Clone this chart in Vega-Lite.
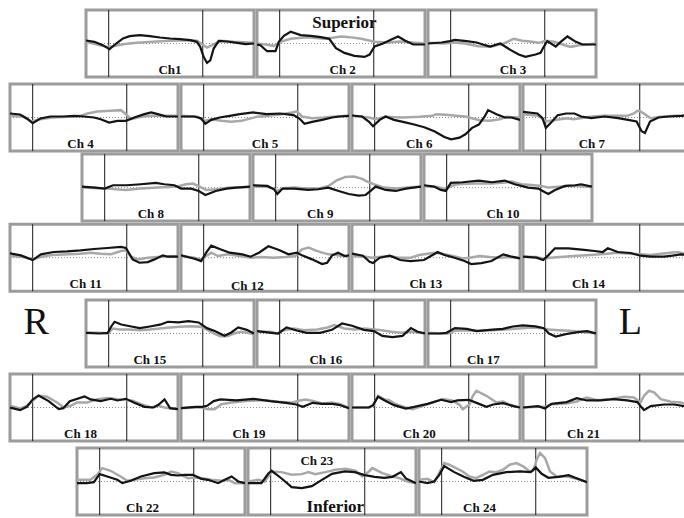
{
"$schema":"https://vega.github.io/schema/vega-lite/v6.json",
"padding":{"left":8,"top":8,"right":0,"bottom":0},
"background":"white",
"config":{"view":{"stroke":"#9c9c9c","strokeWidth":3},"axis":{"disable":true},"legend":{"disable":true}},
"datasets":{
"ev":[{"t":13.5,"v":-1,"v2":1},{"t":69.5,"v":-1,"v2":1}],
"bl":[{"t":0,"t2":100,"v":0}],
"lb":[
{"c":1,"t":50,"v":-1.0,"txt":"Ch1","k":"c"},
{"c":2,"t":51,"v":-1.0,"txt":"Ch 2","k":"c"},
{"c":2,"t":52,"v":0.47,"txt":"Superior","k":"p"},
{"c":3,"t":50.6,"v":-1.0,"txt":"Ch 3","k":"c"},
{"c":4,"t":42,"v":-1.0,"txt":"Ch 4","k":"c"},
{"c":5,"t":50,"v":-1.0,"txt":"Ch 5","k":"c"},
{"c":6,"t":40,"v":-1.0,"txt":"Ch 6","k":"c"},
{"c":7,"t":41,"v":-1.0,"txt":"Ch 7","k":"c"},
{"c":8,"t":41,"v":-1.0,"txt":"Ch 8","k":"c"},
{"c":9,"t":40,"v":-1.0,"txt":"Ch 9","k":"c"},
{"c":10,"t":47,"v":-1.0,"txt":"Ch 10","k":"c"},
{"c":11,"t":45,"v":-1.0,"txt":"Ch 11","k":"c"},
{"c":12,"t":39.5,"v":-1.04,"txt":"Ch 12","k":"c"},
{"c":13,"t":44,"v":-1.0,"txt":"Ch 13","k":"c"},
{"c":14,"t":39,"v":-1.0,"txt":"Ch 14","k":"c"},
{"c":15,"t":38,"v":-1.0,"txt":"Ch 15","k":"c"},
{"c":16,"t":41,"v":-1.0,"txt":"Ch 16","k":"c"},
{"c":17,"t":33,"v":-1.0,"txt":"Ch 17","k":"c"},
{"c":18,"t":42,"v":-1.0,"txt":"Ch 18","k":"c"},
{"c":19,"t":40.5,"v":-1.0,"txt":"Ch 19","k":"c"},
{"c":20,"t":40,"v":-1.0,"txt":"Ch 20","k":"c"},
{"c":21,"t":36,"v":-1.0,"txt":"Ch 21","k":"c"},
{"c":22,"t":39,"v":-1.0,"txt":"Ch 22","k":"c"},
{"c":23,"t":41,"v":0.5,"txt":"Ch 23","k":"c"},
{"c":23,"t":52,"v":-1.02,"txt":"Inferior","k":"p"},
{"c":24,"t":36,"v":-1.0,"txt":"Ch 24","k":"c"},
{"c":25,"t":36,"v":0.32,"txt":"R","k":"s"},
{"c":26,"t":43,"v":0.32,"txt":"L","k":"s"}
],
"tr":[
{"c":1,"s":"b","t":0,"v":0.09},{"c":1,"s":"b","t":5,"v":0.05},{"c":1,"s":"b","t":10,"v":-0.05},{"c":1,"s":"b","t":14,"v":-0.17},{"c":1,"s":"b","t":18,"v":0},{"c":1,"s":"b","t":22,"v":0.15},{"c":1,"s":"b","t":26,"v":0.22},{"c":1,"s":"b","t":32,"v":0.25},{"c":1,"s":"b","t":38,"v":0.22},{"c":1,"s":"b","t":44,"v":0.18},{"c":1,"s":"b","t":50,"v":0.15},{"c":1,"s":"b","t":56,"v":0.13},{"c":1,"s":"b","t":62,"v":0.1},{"c":1,"s":"b","t":66,"v":0.05},{"c":1,"s":"b","t":68,"v":-0.1},{"c":1,"s":"b","t":70,"v":-0.4},{"c":1,"s":"b","t":72,"v":-0.58},{"c":1,"s":"b","t":74,"v":-0.5},{"c":1,"s":"b","t":76,"v":-0.15},{"c":1,"s":"b","t":79,"v":0.08},{"c":1,"s":"b","t":84,"v":0.06},{"c":1,"s":"b","t":90,"v":0.02},{"c":1,"s":"b","t":95,"v":-0.02},{"c":1,"s":"b","t":100,"v":0},
{"c":1,"s":"g","t":0,"v":0.05},{"c":1,"s":"g","t":6,"v":-0.02},{"c":1,"s":"g","t":12,"v":-0.1},{"c":1,"s":"g","t":16,"v":-0.08},{"c":1,"s":"g","t":22,"v":-0.02},{"c":1,"s":"g","t":30,"v":0.02},{"c":1,"s":"g","t":40,"v":0.05},{"c":1,"s":"g","t":50,"v":0.08},{"c":1,"s":"g","t":60,"v":0.1},{"c":1,"s":"g","t":66,"v":0.08},{"c":1,"s":"g","t":70,"v":-0.05},{"c":1,"s":"g","t":72,"v":-0.12},{"c":1,"s":"g","t":75,"v":-0.05},{"c":1,"s":"g","t":80,"v":0.08},{"c":1,"s":"g","t":88,"v":0.05},{"c":1,"s":"g","t":100,"v":0.02},
{"c":2,"s":"b","t":0,"v":-0.03},{"c":2,"s":"b","t":2,"v":-0.05},{"c":2,"s":"b","t":6,"v":-0.23},{"c":2,"s":"b","t":11,"v":-0.23},{"c":2,"s":"b","t":13,"v":0.05},{"c":2,"s":"b","t":16,"v":0.23},{"c":2,"s":"b","t":20,"v":0.35},{"c":2,"s":"b","t":26,"v":0.25},{"c":2,"s":"b","t":32,"v":0.23},{"c":2,"s":"b","t":38,"v":0.19},{"c":2,"s":"b","t":43,"v":0.14},{"c":2,"s":"b","t":47,"v":-0.14},{"c":2,"s":"b","t":52,"v":-0.28},{"c":2,"s":"b","t":58,"v":-0.37},{"c":2,"s":"b","t":64,"v":-0.4},{"c":2,"s":"b","t":67,"v":-0.33},{"c":2,"s":"b","t":70,"v":-0.09},{"c":2,"s":"b","t":75,"v":0},{"c":2,"s":"b","t":80,"v":0.12},{"c":2,"s":"b","t":84,"v":0.21},{"c":2,"s":"b","t":88,"v":0.09},{"c":2,"s":"b","t":93,"v":-0.03},{"c":2,"s":"b","t":100,"v":-0.03},
{"c":2,"s":"g","t":0,"v":0},{"c":2,"s":"g","t":5,"v":-0.03},{"c":2,"s":"g","t":10,"v":-0.07},{"c":2,"s":"g","t":14,"v":0.05},{"c":2,"s":"g","t":20,"v":0.14},{"c":2,"s":"g","t":30,"v":0.19},{"c":2,"s":"g","t":40,"v":0.14},{"c":2,"s":"g","t":45,"v":0.17},{"c":2,"s":"g","t":50,"v":0.21},{"c":2,"s":"g","t":55,"v":0.19},{"c":2,"s":"g","t":62,"v":0.14},{"c":2,"s":"g","t":70,"v":0.05},{"c":2,"s":"g","t":78,"v":0.03},{"c":2,"s":"g","t":85,"v":0.06},{"c":2,"s":"g","t":92,"v":0.03},{"c":2,"s":"g","t":100,"v":0},
{"c":3,"s":"b","t":0,"v":0},{"c":3,"s":"b","t":8,"v":0.03},{"c":3,"s":"b","t":13,"v":0.07},{"c":3,"s":"b","t":16,"v":0.11},{"c":3,"s":"b","t":23,"v":0.07},{"c":3,"s":"b","t":29,"v":0.03},{"c":3,"s":"b","t":34,"v":-0.05},{"c":3,"s":"b","t":37,"v":-0.09},{"c":3,"s":"b","t":43,"v":0},{"c":3,"s":"b","t":49,"v":-0.19},{"c":3,"s":"b","t":54,"v":-0.33},{"c":3,"s":"b","t":58,"v":-0.4},{"c":3,"s":"b","t":64,"v":-0.33},{"c":3,"s":"b","t":67,"v":-0.28},{"c":3,"s":"b","t":69,"v":-0.09},{"c":3,"s":"b","t":71,"v":0.07},{"c":3,"s":"b","t":76,"v":-0.09},{"c":3,"s":"b","t":79,"v":0.05},{"c":3,"s":"b","t":83,"v":0.21},{"c":3,"s":"b","t":88,"v":0.05},{"c":3,"s":"b","t":92,"v":-0.03},{"c":3,"s":"b","t":100,"v":-0.03},
{"c":3,"s":"g","t":0,"v":0.02},{"c":3,"s":"g","t":10,"v":0},{"c":3,"s":"g","t":15,"v":0.03},{"c":3,"s":"g","t":22,"v":0},{"c":3,"s":"g","t":30,"v":-0.08},{"c":3,"s":"g","t":37,"v":-0.1},{"c":3,"s":"g","t":45,"v":0},{"c":3,"s":"g","t":51,"v":0.14},{"c":3,"s":"g","t":56,"v":0.08},{"c":3,"s":"g","t":62,"v":0.05},{"c":3,"s":"g","t":66,"v":0.02},{"c":3,"s":"g","t":70,"v":0.08},{"c":3,"s":"g","t":75,"v":0.05},{"c":3,"s":"g","t":80,"v":-0.03},{"c":3,"s":"g","t":85,"v":-0.1},{"c":3,"s":"g","t":90,"v":-0.05},{"c":3,"s":"g","t":100,"v":0},
{"c":4,"s":"b","t":0,"v":0.12},{"c":4,"s":"b","t":6,"v":0.09},{"c":4,"s":"b","t":10,"v":-0.03},{"c":4,"s":"b","t":13.5,"v":-0.17},{"c":4,"s":"b","t":18,"v":-0.03},{"c":4,"s":"b","t":24,"v":0.03},{"c":4,"s":"b","t":32,"v":0.03},{"c":4,"s":"b","t":38,"v":0.05},{"c":4,"s":"b","t":44,"v":0.03},{"c":4,"s":"b","t":50,"v":0},{"c":4,"s":"b","t":54,"v":-0.05},{"c":4,"s":"b","t":59,"v":-0.15},{"c":4,"s":"b","t":64,"v":-0.1},{"c":4,"s":"b","t":69,"v":-0.1},{"c":4,"s":"b","t":74,"v":0},{"c":4,"s":"b","t":80,"v":0.1},{"c":4,"s":"b","t":84,"v":0.15},{"c":4,"s":"b","t":88,"v":0.1},{"c":4,"s":"b","t":93,"v":0.03},{"c":4,"s":"b","t":100,"v":0.03},
{"c":4,"s":"g","t":0,"v":0.05},{"c":4,"s":"g","t":8,"v":0.02},{"c":4,"s":"g","t":13,"v":-0.12},{"c":4,"s":"g","t":18,"v":-0.05},{"c":4,"s":"g","t":25,"v":0},{"c":4,"s":"g","t":35,"v":0.02},{"c":4,"s":"g","t":42,"v":0.05},{"c":4,"s":"g","t":46,"v":0.12},{"c":4,"s":"g","t":52,"v":0.18},{"c":4,"s":"g","t":60,"v":0.2},{"c":4,"s":"g","t":66,"v":0.22},{"c":4,"s":"g","t":69,"v":0.1},{"c":4,"s":"g","t":72,"v":-0.05},{"c":4,"s":"g","t":76,"v":0},{"c":4,"s":"g","t":82,"v":0.05},{"c":4,"s":"g","t":90,"v":0.05},{"c":4,"s":"g","t":100,"v":0.05},
{"c":5,"s":"b","t":0,"v":0.03},{"c":5,"s":"b","t":8,"v":0.03},{"c":5,"s":"b","t":12,"v":-0.03},{"c":5,"s":"b","t":14.5,"v":-0.19},{"c":5,"s":"b","t":18,"v":-0.07},{"c":5,"s":"b","t":23,"v":0},{"c":5,"s":"b","t":29,"v":0.05},{"c":5,"s":"b","t":35,"v":0.1},{"c":5,"s":"b","t":43,"v":0.15},{"c":5,"s":"b","t":51,"v":0.1},{"c":5,"s":"b","t":59,"v":0.12},{"c":5,"s":"b","t":67,"v":0.07},{"c":5,"s":"b","t":70.5,"v":-0.03},{"c":5,"s":"b","t":73.5,"v":-0.19},{"c":5,"s":"b","t":78,"v":-0.13},{"c":5,"s":"b","t":84,"v":-0.07},{"c":5,"s":"b","t":90,"v":0},{"c":5,"s":"b","t":94,"v":0.03},{"c":5,"s":"b","t":100,"v":0.05},
{"c":5,"s":"g","t":0,"v":0.05},{"c":5,"s":"g","t":10,"v":0.02},{"c":5,"s":"g","t":14,"v":-0.1},{"c":5,"s":"g","t":18,"v":-0.05},{"c":5,"s":"g","t":24,"v":-0.1},{"c":5,"s":"g","t":30,"v":-0.13},{"c":5,"s":"g","t":36,"v":-0.1},{"c":5,"s":"g","t":45,"v":0.02},{"c":5,"s":"g","t":52,"v":0.05},{"c":5,"s":"g","t":60,"v":0.1},{"c":5,"s":"g","t":66,"v":0.15},{"c":5,"s":"g","t":69,"v":0.18},{"c":5,"s":"g","t":72,"v":0.03},{"c":5,"s":"g","t":78,"v":-0.02},{"c":5,"s":"g","t":85,"v":0},{"c":5,"s":"g","t":92,"v":0.03},{"c":5,"s":"g","t":100,"v":0.05},
{"c":6,"s":"b","t":0,"v":0.06},{"c":6,"s":"b","t":6,"v":0.03},{"c":6,"s":"b","t":10,"v":-0.12},{"c":6,"s":"b","t":12.5,"v":-0.26},{"c":6,"s":"b","t":16.5,"v":-0.07},{"c":6,"s":"b","t":20,"v":0.03},{"c":6,"s":"b","t":25,"v":-0.07},{"c":6,"s":"b","t":31,"v":-0.14},{"c":6,"s":"b","t":37,"v":-0.21},{"c":6,"s":"b","t":43,"v":-0.29},{"c":6,"s":"b","t":49,"v":-0.41},{"c":6,"s":"b","t":55,"v":-0.58},{"c":6,"s":"b","t":59,"v":-0.65},{"c":6,"s":"b","t":64,"v":-0.6},{"c":6,"s":"b","t":67.5,"v":-0.5},{"c":6,"s":"b","t":71.5,"v":-0.31},{"c":6,"s":"b","t":75.5,"v":-0.21},{"c":6,"s":"b","t":79,"v":0.03},{"c":6,"s":"b","t":81,"v":0.22},{"c":6,"s":"b","t":86,"v":0.1},{"c":6,"s":"b","t":91,"v":0},{"c":6,"s":"b","t":95,"v":0},{"c":6,"s":"b","t":100,"v":-0.07},
{"c":6,"s":"g","t":0,"v":0.05},{"c":6,"s":"g","t":10,"v":0},{"c":6,"s":"g","t":14,"v":-0.05},{"c":6,"s":"g","t":20,"v":0.02},{"c":6,"s":"g","t":30,"v":0},{"c":6,"s":"g","t":40,"v":0.02},{"c":6,"s":"g","t":48,"v":0.05},{"c":6,"s":"g","t":50,"v":0.1},{"c":6,"s":"g","t":56,"v":0.08},{"c":6,"s":"g","t":62,"v":0.05},{"c":6,"s":"g","t":68,"v":0.02},{"c":6,"s":"g","t":72,"v":-0.03},{"c":6,"s":"g","t":76,"v":-0.08},{"c":6,"s":"g","t":82,"v":-0.1},{"c":6,"s":"g","t":88,"v":-0.05},{"c":6,"s":"g","t":92,"v":0.02},{"c":6,"s":"g","t":100,"v":0},
{"c":7,"s":"b","t":0,"v":0.17},{"c":7,"s":"b","t":8.6,"v":0.12},{"c":7,"s":"b","t":11.6,"v":-0.02},{"c":7,"s":"b","t":13.6,"v":-0.31},{"c":7,"s":"b","t":16.6,"v":-0.16},{"c":7,"s":"b","t":20.6,"v":0.07},{"c":7,"s":"b","t":25.6,"v":0.12},{"c":7,"s":"b","t":30.6,"v":0.12},{"c":7,"s":"b","t":34.6,"v":0.03},{"c":7,"s":"b","t":40.6,"v":-0.02},{"c":7,"s":"b","t":48.6,"v":0.03},{"c":7,"s":"b","t":56.6,"v":-0.02},{"c":7,"s":"b","t":62.6,"v":-0.07},{"c":7,"s":"b","t":67.6,"v":-0.12},{"c":7,"s":"b","t":70.6,"v":-0.41},{"c":7,"s":"b","t":72.6,"v":-0.46},{"c":7,"s":"b","t":75.6,"v":-0.12},{"c":7,"s":"b","t":80.6,"v":0},{"c":7,"s":"b","t":86.6,"v":0.03},{"c":7,"s":"b","t":94.6,"v":0.05},{"c":7,"s":"b","t":100,"v":0.07},
{"c":7,"s":"g","t":0,"v":0.1},{"c":7,"s":"g","t":9,"v":0.05},{"c":7,"s":"g","t":12,"v":-0.05},{"c":7,"s":"g","t":14,"v":-0.12},{"c":7,"s":"g","t":18,"v":-0.08},{"c":7,"s":"g","t":22,"v":-0.05},{"c":7,"s":"g","t":26,"v":-0.02},{"c":7,"s":"g","t":30,"v":-0.05},{"c":7,"s":"g","t":34,"v":-0.02},{"c":7,"s":"g","t":40,"v":0.02},{"c":7,"s":"g","t":48,"v":0.05},{"c":7,"s":"g","t":56,"v":0.05},{"c":7,"s":"g","t":62,"v":0.05},{"c":7,"s":"g","t":66,"v":0.12},{"c":7,"s":"g","t":68,"v":0.2},{"c":7,"s":"g","t":70,"v":0.18},{"c":7,"s":"g","t":73,"v":0.08},{"c":7,"s":"g","t":76,"v":-0.02},{"c":7,"s":"g","t":82,"v":0.02},{"c":7,"s":"g","t":90,"v":0.05},{"c":7,"s":"g","t":100,"v":0.07},
{"c":8,"s":"b","t":0,"v":0.03},{"c":8,"s":"b","t":8,"v":0},{"c":8,"s":"b","t":13.5,"v":-0.03},{"c":8,"s":"b","t":18.5,"v":0.07},{"c":8,"s":"b","t":26.7,"v":0.07},{"c":8,"s":"b","t":35,"v":0.1},{"c":8,"s":"b","t":44,"v":0.14},{"c":8,"s":"b","t":49,"v":0.1},{"c":8,"s":"b","t":55,"v":0.07},{"c":8,"s":"b","t":59,"v":-0.03},{"c":8,"s":"b","t":65,"v":-0.03},{"c":8,"s":"b","t":69.5,"v":-0.1},{"c":8,"s":"b","t":73.5,"v":-0.22},{"c":8,"s":"b","t":79.6,"v":-0.1},{"c":8,"s":"b","t":86,"v":-0.03},{"c":8,"s":"b","t":92,"v":0},{"c":8,"s":"b","t":100,"v":0.03},
{"c":8,"s":"g","t":0,"v":0},{"c":8,"s":"g","t":10,"v":-0.02},{"c":8,"s":"g","t":16,"v":-0.03},{"c":8,"s":"g","t":20,"v":-0.05},{"c":8,"s":"g","t":26,"v":-0.07},{"c":8,"s":"g","t":35,"v":-0.03},{"c":8,"s":"g","t":45,"v":0},{"c":8,"s":"g","t":52,"v":0.02},{"c":8,"s":"g","t":58,"v":0.05},{"c":8,"s":"g","t":62,"v":0.1},{"c":8,"s":"g","t":66,"v":0.12},{"c":8,"s":"g","t":70,"v":0.03},{"c":8,"s":"g","t":74,"v":-0.07},{"c":8,"s":"g","t":80,"v":-0.05},{"c":8,"s":"g","t":88,"v":0},{"c":8,"s":"g","t":100,"v":0.02},
{"c":9,"s":"b","t":0,"v":0.07},{"c":9,"s":"b","t":8.5,"v":0.05},{"c":9,"s":"b","t":12.5,"v":-0.05},{"c":9,"s":"b","t":14.5,"v":-0.19},{"c":9,"s":"b","t":17.6,"v":-0.03},{"c":9,"s":"b","t":24.6,"v":-0.03},{"c":9,"s":"b","t":32.7,"v":-0.07},{"c":9,"s":"b","t":38.8,"v":-0.05},{"c":9,"s":"b","t":44.8,"v":0},{"c":9,"s":"b","t":51,"v":-0.1},{"c":9,"s":"b","t":57,"v":-0.19},{"c":9,"s":"b","t":63,"v":-0.24},{"c":9,"s":"b","t":67,"v":-0.22},{"c":9,"s":"b","t":70,"v":-0.1},{"c":9,"s":"b","t":73,"v":0.03},{"c":9,"s":"b","t":79,"v":-0.07},{"c":9,"s":"b","t":85,"v":-0.1},{"c":9,"s":"b","t":91,"v":-0.03},{"c":9,"s":"b","t":100,"v":0.03},
{"c":9,"s":"g","t":0,"v":0.03},{"c":9,"s":"g","t":8,"v":0.03},{"c":9,"s":"g","t":12,"v":-0.03},{"c":9,"s":"g","t":14.5,"v":-0.1},{"c":9,"s":"g","t":18,"v":-0.02},{"c":9,"s":"g","t":25,"v":0},{"c":9,"s":"g","t":32,"v":-0.03},{"c":9,"s":"g","t":40,"v":-0.02},{"c":9,"s":"g","t":45,"v":0.05},{"c":9,"s":"g","t":50,"v":0.22},{"c":9,"s":"g","t":55,"v":0.32},{"c":9,"s":"g","t":60,"v":0.33},{"c":9,"s":"g","t":65,"v":0.26},{"c":9,"s":"g","t":68,"v":0.18},{"c":9,"s":"g","t":72,"v":0.1},{"c":9,"s":"g","t":78,"v":0},{"c":9,"s":"g","t":85,"v":-0.03},{"c":9,"s":"g","t":92,"v":0},{"c":9,"s":"g","t":100,"v":0.03},
{"c":10,"s":"b","t":0,"v":0.07},{"c":10,"s":"b","t":6,"v":0.03},{"c":10,"s":"b","t":10,"v":-0.07},{"c":10,"s":"b","t":13,"v":-0.1},{"c":10,"s":"b","t":16,"v":0.14},{"c":10,"s":"b","t":23,"v":0.16},{"c":10,"s":"b","t":32.6,"v":0.21},{"c":10,"s":"b","t":40.5,"v":0.16},{"c":10,"s":"b","t":48,"v":0.21},{"c":10,"s":"b","t":54,"v":0.1},{"c":10,"s":"b","t":62,"v":0},{"c":10,"s":"b","t":68,"v":-0.03},{"c":10,"s":"b","t":72,"v":-0.14},{"c":10,"s":"b","t":74,"v":-0.19},{"c":10,"s":"b","t":78,"v":-0.07},{"c":10,"s":"b","t":84,"v":0.05},{"c":10,"s":"b","t":90,"v":0.07},{"c":10,"s":"b","t":93.5,"v":0.1},{"c":10,"s":"b","t":100,"v":0.03},
{"c":10,"s":"g","t":0,"v":0.05},{"c":10,"s":"g","t":8,"v":0.02},{"c":10,"s":"g","t":13,"v":-0.05},{"c":10,"s":"g","t":16,"v":0.05},{"c":10,"s":"g","t":20,"v":0.1},{"c":10,"s":"g","t":30,"v":0.12},{"c":10,"s":"g","t":40,"v":0.12},{"c":10,"s":"g","t":48,"v":0.15},{"c":10,"s":"g","t":52,"v":0.18},{"c":10,"s":"g","t":58,"v":0.1},{"c":10,"s":"g","t":64,"v":0.08},{"c":10,"s":"g","t":70,"v":0.05},{"c":10,"s":"g","t":74,"v":0},{"c":10,"s":"g","t":78,"v":0.02},{"c":10,"s":"g","t":86,"v":0.05},{"c":10,"s":"g","t":92,"v":0.05},{"c":10,"s":"g","t":100,"v":0.02},
{"c":11,"s":"b","t":0,"v":0.13},{"c":11,"s":"b","t":6.5,"v":0.07},{"c":11,"s":"b","t":13.5,"v":-0.07},{"c":11,"s":"b","t":18.4,"v":0.1},{"c":11,"s":"b","t":26,"v":0.17},{"c":11,"s":"b","t":34,"v":0.19},{"c":11,"s":"b","t":42,"v":0.22},{"c":11,"s":"b","t":50,"v":0.26},{"c":11,"s":"b","t":58,"v":0.29},{"c":11,"s":"b","t":66,"v":0.32},{"c":11,"s":"b","t":69,"v":0.29},{"c":11,"s":"b","t":73,"v":-0.05},{"c":11,"s":"b","t":77,"v":-0.15},{"c":11,"s":"b","t":82,"v":-0.13},{"c":11,"s":"b","t":86,"v":-0.05},{"c":11,"s":"b","t":91,"v":0.07},{"c":11,"s":"b","t":94,"v":0.03},{"c":11,"s":"b","t":100,"v":0.03},
{"c":11,"s":"g","t":0,"v":0.05},{"c":11,"s":"g","t":8,"v":0.02},{"c":11,"s":"g","t":13.5,"v":-0.05},{"c":11,"s":"g","t":18,"v":0.02},{"c":11,"s":"g","t":25,"v":0.08},{"c":11,"s":"g","t":35,"v":0.1},{"c":11,"s":"g","t":42,"v":0.12},{"c":11,"s":"g","t":48,"v":0.15},{"c":11,"s":"g","t":54,"v":0.12},{"c":11,"s":"g","t":60,"v":0.1},{"c":11,"s":"g","t":66,"v":0.2},{"c":11,"s":"g","t":69,"v":0.22},{"c":11,"s":"g","t":72,"v":0.03},{"c":11,"s":"g","t":76,"v":-0.05},{"c":11,"s":"g","t":82,"v":0},{"c":11,"s":"g","t":90,"v":0.03},{"c":11,"s":"g","t":100,"v":0.05},
{"c":12,"s":"b","t":0,"v":0.07},{"c":12,"s":"b","t":8,"v":-0.03},{"c":12,"s":"b","t":12,"v":-0.1},{"c":12,"s":"b","t":15,"v":0.15},{"c":12,"s":"b","t":18,"v":0.36},{"c":12,"s":"b","t":23,"v":0.26},{"c":12,"s":"b","t":29,"v":0.15},{"c":12,"s":"b","t":36.5,"v":0.1},{"c":12,"s":"b","t":41.5,"v":0.03},{"c":12,"s":"b","t":46.4,"v":0.15},{"c":12,"s":"b","t":52,"v":0.34},{"c":12,"s":"b","t":58,"v":0.24},{"c":12,"s":"b","t":64,"v":0.1},{"c":12,"s":"b","t":69,"v":0.15},{"c":12,"s":"b","t":72,"v":0.07},{"c":12,"s":"b","t":78,"v":-0.05},{"c":12,"s":"b","t":84,"v":-0.19},{"c":12,"s":"b","t":87,"v":-0.15},{"c":12,"s":"b","t":90,"v":0.07},{"c":12,"s":"b","t":93.5,"v":0.15},{"c":12,"s":"b","t":97.5,"v":0.05},{"c":12,"s":"b","t":100,"v":0.07},
{"c":12,"s":"g","t":0,"v":0.05},{"c":12,"s":"g","t":8,"v":0},{"c":12,"s":"g","t":12,"v":-0.05},{"c":12,"s":"g","t":15,"v":0.05},{"c":12,"s":"g","t":18,"v":0.15},{"c":12,"s":"g","t":22,"v":0.05},{"c":12,"s":"g","t":28,"v":0.1},{"c":12,"s":"g","t":35,"v":0.05},{"c":12,"s":"g","t":42,"v":0},{"c":12,"s":"g","t":48,"v":0.02},{"c":12,"s":"g","t":55,"v":0},{"c":12,"s":"g","t":62,"v":0.02},{"c":12,"s":"g","t":68,"v":0.05},{"c":12,"s":"g","t":72,"v":0.25},{"c":12,"s":"g","t":76,"v":0.3},{"c":12,"s":"g","t":80,"v":0.22},{"c":12,"s":"g","t":84,"v":0.15},{"c":12,"s":"g","t":88,"v":0.1},{"c":12,"s":"g","t":92,"v":0.08},{"c":12,"s":"g","t":96,"v":0.05},{"c":12,"s":"g","t":100,"v":0.05},
{"c":13,"s":"b","t":0,"v":0.12},{"c":13,"s":"b","t":6.5,"v":0.06},{"c":13,"s":"b","t":10.5,"v":-0.12},{"c":13,"s":"b","t":12.5,"v":-0.16},{"c":13,"s":"b","t":16.5,"v":0},{"c":13,"s":"b","t":22.6,"v":0.06},{"c":13,"s":"b","t":28.7,"v":-0.07},{"c":13,"s":"b","t":34.7,"v":-0.1},{"c":13,"s":"b","t":42.8,"v":-0.07},{"c":13,"s":"b","t":48,"v":0.08},{"c":13,"s":"b","t":51,"v":0.17},{"c":13,"s":"b","t":55,"v":0.08},{"c":13,"s":"b","t":61,"v":0},{"c":13,"s":"b","t":67,"v":-0.1},{"c":13,"s":"b","t":71,"v":-0.19},{"c":13,"s":"b","t":77,"v":-0.16},{"c":13,"s":"b","t":83,"v":-0.1},{"c":13,"s":"b","t":90,"v":0.1},{"c":13,"s":"b","t":95,"v":0.03},{"c":13,"s":"b","t":100,"v":-0.02},
{"c":13,"s":"g","t":0,"v":0.05},{"c":13,"s":"g","t":8,"v":0.03},{"c":13,"s":"g","t":12,"v":0},{"c":13,"s":"g","t":16,"v":0.02},{"c":13,"s":"g","t":22,"v":0.05},{"c":13,"s":"g","t":28,"v":0},{"c":13,"s":"g","t":35,"v":0},{"c":13,"s":"g","t":40,"v":0.08},{"c":13,"s":"g","t":45,"v":0.12},{"c":13,"s":"g","t":50,"v":0.15},{"c":13,"s":"g","t":55,"v":0.1},{"c":13,"s":"g","t":60,"v":0.05},{"c":13,"s":"g","t":66,"v":-0.02},{"c":13,"s":"g","t":70,"v":0},{"c":13,"s":"g","t":76,"v":0.05},{"c":13,"s":"g","t":82,"v":0.02},{"c":13,"s":"g","t":88,"v":0},{"c":13,"s":"g","t":94,"v":0.02},{"c":13,"s":"g","t":100,"v":0},
{"c":14,"s":"b","t":0,"v":0.03},{"c":14,"s":"b","t":8,"v":0},{"c":14,"s":"b","t":12,"v":-0.07},{"c":14,"s":"b","t":15,"v":0.07},{"c":14,"s":"b","t":19,"v":0.28},{"c":14,"s":"b","t":27,"v":0.28},{"c":14,"s":"b","t":35,"v":0.24},{"c":14,"s":"b","t":42.6,"v":0.2},{"c":14,"s":"b","t":47.5,"v":0.17},{"c":14,"s":"b","t":50.5,"v":0.28},{"c":14,"s":"b","t":56.4,"v":0.17},{"c":14,"s":"b","t":64,"v":0.14},{"c":14,"s":"b","t":70,"v":0.06},{"c":14,"s":"b","t":76,"v":0.03},{"c":14,"s":"b","t":84,"v":0.03},{"c":14,"s":"b","t":89,"v":0.06},{"c":14,"s":"b","t":94,"v":0.1},{"c":14,"s":"b","t":100,"v":0.08},
{"c":14,"s":"g","t":0,"v":0.03},{"c":14,"s":"g","t":8,"v":0.02},{"c":14,"s":"g","t":12,"v":-0.03},{"c":14,"s":"g","t":16,"v":0},{"c":14,"s":"g","t":22,"v":0.02},{"c":14,"s":"g","t":30,"v":0.05},{"c":14,"s":"g","t":40,"v":0.08},{"c":14,"s":"g","t":50,"v":0.12},{"c":14,"s":"g","t":56,"v":0.15},{"c":14,"s":"g","t":64,"v":0.12},{"c":14,"s":"g","t":70,"v":0.1},{"c":14,"s":"g","t":76,"v":0.08},{"c":14,"s":"g","t":82,"v":0.12},{"c":14,"s":"g","t":88,"v":0.15},{"c":14,"s":"g","t":92,"v":0.17},{"c":14,"s":"g","t":96,"v":0.12},{"c":14,"s":"g","t":100,"v":0.08},
{"c":15,"s":"b","t":0,"v":0.02},{"c":15,"s":"b","t":7.8,"v":0},{"c":15,"s":"b","t":13,"v":0.02},{"c":15,"s":"b","t":15,"v":0.21},{"c":15,"s":"b","t":17,"v":0.35},{"c":15,"s":"b","t":21,"v":0.27},{"c":15,"s":"b","t":27,"v":0.21},{"c":15,"s":"b","t":32,"v":0.16},{"c":15,"s":"b","t":38,"v":0.21},{"c":15,"s":"b","t":44.6,"v":0.27},{"c":15,"s":"b","t":48.7,"v":0.35},{"c":15,"s":"b","t":55,"v":0.33},{"c":15,"s":"b","t":61,"v":0.37},{"c":15,"s":"b","t":67,"v":0.33},{"c":15,"s":"b","t":72,"v":0.16},{"c":15,"s":"b","t":77,"v":0.07},{"c":15,"s":"b","t":82.4,"v":-0.07},{"c":15,"s":"b","t":86.5,"v":0.03},{"c":15,"s":"b","t":90.6,"v":0.18},{"c":15,"s":"b","t":95.7,"v":0.11},{"c":15,"s":"b","t":100,"v":0},
{"c":15,"s":"g","t":0,"v":0.03},{"c":15,"s":"g","t":8,"v":0.02},{"c":15,"s":"g","t":13,"v":0},{"c":15,"s":"g","t":16,"v":0.15},{"c":15,"s":"g","t":20,"v":0.12},{"c":15,"s":"g","t":26,"v":0.12},{"c":15,"s":"g","t":32,"v":0.1},{"c":15,"s":"g","t":38,"v":0.12},{"c":15,"s":"g","t":44,"v":0.15},{"c":15,"s":"g","t":50,"v":0.18},{"c":15,"s":"g","t":56,"v":0.2},{"c":15,"s":"g","t":62,"v":0.22},{"c":15,"s":"g","t":68,"v":0.2},{"c":15,"s":"g","t":72,"v":0.12},{"c":15,"s":"g","t":76,"v":0},{"c":15,"s":"g","t":80,"v":-0.08},{"c":15,"s":"g","t":84,"v":-0.08},{"c":15,"s":"g","t":88,"v":0},{"c":15,"s":"g","t":92,"v":0.05},{"c":15,"s":"g","t":96,"v":0.02},{"c":15,"s":"g","t":100,"v":-0.02},
{"c":16,"s":"b","t":0,"v":0.07},{"c":16,"s":"b","t":8.6,"v":0.02},{"c":16,"s":"b","t":12.6,"v":0},{"c":16,"s":"b","t":17.6,"v":0.18},{"c":16,"s":"b","t":23.6,"v":0.09},{"c":16,"s":"b","t":29.6,"v":0.02},{"c":16,"s":"b","t":37.6,"v":0.02},{"c":16,"s":"b","t":44.6,"v":0.11},{"c":16,"s":"b","t":50.6,"v":0.3},{"c":16,"s":"b","t":56.6,"v":0.23},{"c":16,"s":"b","t":63.6,"v":0.11},{"c":16,"s":"b","t":69.6,"v":0.07},{"c":16,"s":"b","t":74.6,"v":-0.07},{"c":16,"s":"b","t":80.6,"v":-0.11},{"c":16,"s":"b","t":86.6,"v":-0.07},{"c":16,"s":"b","t":91.6,"v":0.16},{"c":16,"s":"b","t":95.6,"v":0.05},{"c":16,"s":"b","t":100,"v":0},
{"c":16,"s":"g","t":0,"v":0.05},{"c":16,"s":"g","t":8,"v":0.05},{"c":16,"s":"g","t":12,"v":0},{"c":16,"s":"g","t":16,"v":0.1},{"c":16,"s":"g","t":22,"v":0.15},{"c":16,"s":"g","t":28,"v":0.1},{"c":16,"s":"g","t":36,"v":0.12},{"c":16,"s":"g","t":42,"v":0.18},{"c":16,"s":"g","t":46,"v":0.25},{"c":16,"s":"g","t":52,"v":0.15},{"c":16,"s":"g","t":58,"v":0.12},{"c":16,"s":"g","t":64,"v":0.15},{"c":16,"s":"g","t":70,"v":0.12},{"c":16,"s":"g","t":74,"v":0.1},{"c":16,"s":"g","t":80,"v":0.05},{"c":16,"s":"g","t":86,"v":0.02},{"c":16,"s":"g","t":92,"v":0.05},{"c":16,"s":"g","t":100,"v":0},
{"c":17,"s":"b","t":0,"v":0},{"c":17,"s":"b","t":7,"v":0},{"c":17,"s":"b","t":11,"v":0.02},{"c":17,"s":"b","t":16,"v":0.16},{"c":17,"s":"b","t":23,"v":0.14},{"c":17,"s":"b","t":29,"v":0.07},{"c":17,"s":"b","t":36.7,"v":0.11},{"c":17,"s":"b","t":44.6,"v":0.14},{"c":17,"s":"b","t":50.5,"v":0.21},{"c":17,"s":"b","t":56.4,"v":0.24},{"c":17,"s":"b","t":64,"v":0.21},{"c":17,"s":"b","t":69,"v":0.16},{"c":17,"s":"b","t":72,"v":0},{"c":17,"s":"b","t":76,"v":-0.09},{"c":17,"s":"b","t":82,"v":-0.02},{"c":17,"s":"b","t":90,"v":0.05},{"c":17,"s":"b","t":94.7,"v":0.07},{"c":17,"s":"b","t":100,"v":0},
{"c":17,"s":"g","t":0,"v":0.02},{"c":17,"s":"g","t":8,"v":0},{"c":17,"s":"g","t":12,"v":0},{"c":17,"s":"g","t":16,"v":0.08},{"c":17,"s":"g","t":22,"v":0.1},{"c":17,"s":"g","t":30,"v":0.08},{"c":17,"s":"g","t":38,"v":0.1},{"c":17,"s":"g","t":46,"v":0.12},{"c":17,"s":"g","t":54,"v":0.15},{"c":17,"s":"g","t":62,"v":0.18},{"c":17,"s":"g","t":68,"v":0.16},{"c":17,"s":"g","t":72,"v":0.12},{"c":17,"s":"g","t":78,"v":0.1},{"c":17,"s":"g","t":84,"v":0.08},{"c":17,"s":"g","t":90,"v":0.05},{"c":17,"s":"g","t":96,"v":0.03},{"c":17,"s":"g","t":100,"v":0},
{"c":18,"s":"b","t":0,"v":0},{"c":18,"s":"b","t":6,"v":-0.08},{"c":18,"s":"b","t":10,"v":0.02},{"c":18,"s":"b","t":13.5,"v":0.24},{"c":18,"s":"b","t":17,"v":0.36},{"c":18,"s":"b","t":23,"v":0.19},{"c":18,"s":"b","t":29,"v":-0.05},{"c":18,"s":"b","t":31.7,"v":-0.02},{"c":18,"s":"b","t":35.6,"v":0.19},{"c":18,"s":"b","t":44.4,"v":0.33},{"c":18,"s":"b","t":48,"v":0.24},{"c":18,"s":"b","t":54,"v":0.19},{"c":18,"s":"b","t":60,"v":0.26},{"c":18,"s":"b","t":64,"v":0.21},{"c":18,"s":"b","t":69,"v":0.26},{"c":18,"s":"b","t":74,"v":0.14},{"c":18,"s":"b","t":80,"v":0.02},{"c":18,"s":"b","t":85.5,"v":0},{"c":18,"s":"b","t":88.5,"v":0.09},{"c":18,"s":"b","t":92,"v":0.24},{"c":18,"s":"b","t":95.3,"v":-0.02},{"c":18,"s":"b","t":100,"v":-0.05},
{"c":18,"s":"g","t":0,"v":0.05},{"c":18,"s":"g","t":6,"v":-0.03},{"c":18,"s":"g","t":10,"v":0.05},{"c":18,"s":"g","t":13.5,"v":0.2},{"c":18,"s":"g","t":17,"v":0.35},{"c":18,"s":"g","t":22,"v":0.32},{"c":18,"s":"g","t":28,"v":0.15},{"c":18,"s":"g","t":32,"v":0},{"c":18,"s":"g","t":36,"v":0.05},{"c":18,"s":"g","t":40,"v":0.15},{"c":18,"s":"g","t":46,"v":0.15},{"c":18,"s":"g","t":52,"v":0.25},{"c":18,"s":"g","t":58,"v":0.28},{"c":18,"s":"g","t":64,"v":0.25},{"c":18,"s":"g","t":69,"v":0.22},{"c":18,"s":"g","t":73,"v":0.2},{"c":18,"s":"g","t":78,"v":0.1},{"c":18,"s":"g","t":84,"v":0},{"c":18,"s":"g","t":88,"v":0.05},{"c":18,"s":"g","t":92,"v":0},{"c":18,"s":"g","t":96,"v":-0.03},{"c":18,"s":"g","t":100,"v":-0.05},
{"c":19,"s":"b","t":0,"v":-0.02},{"c":19,"s":"b","t":8.6,"v":0.02},{"c":19,"s":"b","t":12.6,"v":0.02},{"c":19,"s":"b","t":15.5,"v":0.05},{"c":19,"s":"b","t":19.5,"v":0.19},{"c":19,"s":"b","t":23.4,"v":0.24},{"c":19,"s":"b","t":33,"v":0.21},{"c":19,"s":"b","t":43,"v":0.26},{"c":19,"s":"b","t":53,"v":0.19},{"c":19,"s":"b","t":62.7,"v":0.14},{"c":19,"s":"b","t":68.6,"v":0.09},{"c":19,"s":"b","t":72.5,"v":0.02},{"c":19,"s":"b","t":78.4,"v":0.14},{"c":19,"s":"b","t":84,"v":0.11},{"c":19,"s":"b","t":90,"v":0.11},{"c":19,"s":"b","t":94,"v":0.08},{"c":19,"s":"b","t":100,"v":-0.02},
{"c":19,"s":"g","t":0,"v":-0.02},{"c":19,"s":"g","t":8,"v":0},{"c":19,"s":"g","t":12,"v":0},{"c":19,"s":"g","t":16,"v":-0.05},{"c":19,"s":"g","t":20,"v":-0.05},{"c":19,"s":"g","t":24,"v":0.1},{"c":19,"s":"g","t":30,"v":0.15},{"c":19,"s":"g","t":40,"v":0.2},{"c":19,"s":"g","t":50,"v":0.22},{"c":19,"s":"g","t":58,"v":0.17},{"c":19,"s":"g","t":66,"v":0.14},{"c":19,"s":"g","t":70,"v":0.2},{"c":19,"s":"g","t":74,"v":0.24},{"c":19,"s":"g","t":78,"v":0.2},{"c":19,"s":"g","t":84,"v":0.12},{"c":19,"s":"g","t":90,"v":0.15},{"c":19,"s":"g","t":95,"v":0.1},{"c":19,"s":"g","t":100,"v":-0.02},
{"c":20,"s":"b","t":0,"v":0},{"c":20,"s":"b","t":10,"v":0},{"c":20,"s":"b","t":12.5,"v":0.07},{"c":20,"s":"b","t":15.5,"v":0.32},{"c":20,"s":"b","t":19.5,"v":0.21},{"c":20,"s":"b","t":25,"v":0.07},{"c":20,"s":"b","t":32,"v":-0.03},{"c":20,"s":"b","t":37,"v":0.02},{"c":20,"s":"b","t":45,"v":0.11},{"c":20,"s":"b","t":53,"v":0.23},{"c":20,"s":"b","t":59,"v":0.16},{"c":20,"s":"b","t":62.7,"v":0.21},{"c":20,"s":"b","t":69.5,"v":0.23},{"c":20,"s":"b","t":74.5,"v":0.13},{"c":20,"s":"b","t":80,"v":0.02},{"c":20,"s":"b","t":84,"v":0.09},{"c":20,"s":"b","t":90,"v":0.13},{"c":20,"s":"b","t":96,"v":0.04},{"c":20,"s":"b","t":100,"v":0},
{"c":20,"s":"g","t":0,"v":0},{"c":20,"s":"g","t":10,"v":0},{"c":20,"s":"g","t":12.5,"v":0.05},{"c":20,"s":"g","t":15.5,"v":0.35},{"c":20,"s":"g","t":19,"v":0.25},{"c":20,"s":"g","t":22,"v":0.22},{"c":20,"s":"g","t":26,"v":0.1},{"c":20,"s":"g","t":32,"v":0},{"c":20,"s":"g","t":36,"v":-0.05},{"c":20,"s":"g","t":42,"v":0.05},{"c":20,"s":"g","t":48,"v":0.15},{"c":20,"s":"g","t":54,"v":0.25},{"c":20,"s":"g","t":60,"v":0.2},{"c":20,"s":"g","t":64,"v":0.08},{"c":20,"s":"g","t":66,"v":-0.05},{"c":20,"s":"g","t":70,"v":0.1},{"c":20,"s":"g","t":72,"v":0.35},{"c":20,"s":"g","t":74,"v":0.5},{"c":20,"s":"g","t":80,"v":0.35},{"c":20,"s":"g","t":86,"v":0.15},{"c":20,"s":"g","t":90,"v":0.18},{"c":20,"s":"g","t":94,"v":0.08},{"c":20,"s":"g","t":100,"v":0},
{"c":21,"s":"b","t":0,"v":0},{"c":21,"s":"b","t":9,"v":0.04},{"c":21,"s":"b","t":13,"v":-0.03},{"c":21,"s":"b","t":17,"v":0.11},{"c":21,"s":"b","t":26,"v":0.16},{"c":21,"s":"b","t":32,"v":0.28},{"c":21,"s":"b","t":38,"v":0.21},{"c":21,"s":"b","t":46,"v":0.21},{"c":21,"s":"b","t":54,"v":0.25},{"c":21,"s":"b","t":62,"v":0.21},{"c":21,"s":"b","t":68,"v":0.16},{"c":21,"s":"b","t":72,"v":-0.08},{"c":21,"s":"b","t":76,"v":0.04},{"c":21,"s":"b","t":84,"v":0.09},{"c":21,"s":"b","t":90,"v":0.09},{"c":21,"s":"b","t":96,"v":0.04},{"c":21,"s":"b","t":100,"v":0.02},
{"c":21,"s":"g","t":0,"v":0},{"c":21,"s":"g","t":9,"v":0.02},{"c":21,"s":"g","t":13,"v":0.02},{"c":21,"s":"g","t":17,"v":0.1},{"c":21,"s":"g","t":26,"v":0.12},{"c":21,"s":"g","t":32,"v":0.18},{"c":21,"s":"g","t":38,"v":0.3},{"c":21,"s":"g","t":44,"v":0.22},{"c":21,"s":"g","t":52,"v":0.25},{"c":21,"s":"g","t":60,"v":0.32},{"c":21,"s":"g","t":66,"v":0.3},{"c":21,"s":"g","t":70,"v":0.15},{"c":21,"s":"g","t":72,"v":0.35},{"c":21,"s":"g","t":75,"v":0.5},{"c":21,"s":"g","t":78,"v":0.45},{"c":21,"s":"g","t":82,"v":0.25},{"c":21,"s":"g","t":88,"v":0.17},{"c":21,"s":"g","t":94,"v":0.15},{"c":21,"s":"g","t":100,"v":0.05},
{"c":22,"s":"b","t":0,"v":-0.05},{"c":22,"s":"b","t":6,"v":-0.05},{"c":22,"s":"b","t":10,"v":-0.02},{"c":22,"s":"b","t":13.5,"v":0.22},{"c":22,"s":"b","t":18,"v":0.15},{"c":22,"s":"b","t":24,"v":0.05},{"c":22,"s":"b","t":27,"v":-0.05},{"c":22,"s":"b","t":32,"v":0.02},{"c":22,"s":"b","t":38,"v":0.15},{"c":22,"s":"b","t":46,"v":0.25},{"c":22,"s":"b","t":52,"v":0.27},{"c":22,"s":"b","t":56,"v":0.2},{"c":22,"s":"b","t":60,"v":0.18},{"c":22,"s":"b","t":64,"v":0.2},{"c":22,"s":"b","t":69,"v":0.2},{"c":22,"s":"b","t":74,"v":0.08},{"c":22,"s":"b","t":78,"v":0.05},{"c":22,"s":"b","t":84,"v":-0.05},{"c":22,"s":"b","t":88,"v":0.05},{"c":22,"s":"b","t":92,"v":0.15},{"c":22,"s":"b","t":96,"v":0},{"c":22,"s":"b","t":100,"v":-0.05},
{"c":22,"s":"g","t":0,"v":0.05},{"c":22,"s":"g","t":8,"v":0.05},{"c":22,"s":"g","t":12,"v":0.2},{"c":22,"s":"g","t":15,"v":0.4},{"c":22,"s":"g","t":20,"v":0.32},{"c":22,"s":"g","t":26,"v":0.15},{"c":22,"s":"g","t":30,"v":0.02},{"c":22,"s":"g","t":34,"v":0.05},{"c":22,"s":"g","t":40,"v":0.1},{"c":22,"s":"g","t":46,"v":0.12},{"c":22,"s":"g","t":52,"v":0.2},{"c":22,"s":"g","t":56,"v":0.3},{"c":22,"s":"g","t":60,"v":0.25},{"c":22,"s":"g","t":66,"v":0.1},{"c":22,"s":"g","t":70,"v":0.12},{"c":22,"s":"g","t":75,"v":0.1},{"c":22,"s":"g","t":80,"v":0.05},{"c":22,"s":"g","t":86,"v":0.02},{"c":22,"s":"g","t":90,"v":0.05},{"c":22,"s":"g","t":94,"v":-0.05},{"c":22,"s":"g","t":100,"v":-0.05},
{"c":23,"s":"b","t":0,"v":-0.05},{"c":23,"s":"b","t":8,"v":-0.05},{"c":23,"s":"b","t":12,"v":0.23},{"c":23,"s":"b","t":14,"v":0.32},{"c":23,"s":"b","t":20,"v":0.09},{"c":23,"s":"b","t":26,"v":-0.17},{"c":23,"s":"b","t":32,"v":-0.2},{"c":23,"s":"b","t":38,"v":-0.14},{"c":23,"s":"b","t":44,"v":0.05},{"c":23,"s":"b","t":50,"v":0.23},{"c":23,"s":"b","t":57.6,"v":0.3},{"c":23,"s":"b","t":63.5,"v":0.28},{"c":23,"s":"b","t":69.5,"v":0.19},{"c":23,"s":"b","t":75.4,"v":0.14},{"c":23,"s":"b","t":81,"v":0.11},{"c":23,"s":"b","t":86,"v":0.14},{"c":23,"s":"b","t":91,"v":0.28},{"c":23,"s":"b","t":94,"v":0.09},{"c":23,"s":"b","t":100,"v":-0.05},
{"c":23,"s":"g","t":0,"v":0},{"c":23,"s":"g","t":6,"v":0.05},{"c":23,"s":"g","t":10,"v":0},{"c":23,"s":"g","t":14,"v":0.3},{"c":23,"s":"g","t":20,"v":0.28},{"c":23,"s":"g","t":26,"v":0.2},{"c":23,"s":"g","t":32,"v":0.22},{"c":23,"s":"g","t":36,"v":0.28},{"c":23,"s":"g","t":40,"v":0.22},{"c":23,"s":"g","t":46,"v":0.28},{"c":23,"s":"g","t":52,"v":0.35},{"c":23,"s":"g","t":58,"v":0.38},{"c":23,"s":"g","t":64,"v":0.32},{"c":23,"s":"g","t":68,"v":0.15},{"c":23,"s":"g","t":72,"v":0.3},{"c":23,"s":"g","t":74,"v":0.4},{"c":23,"s":"g","t":80,"v":0.25},{"c":23,"s":"g","t":86,"v":0.15},{"c":23,"s":"g","t":90,"v":0.1},{"c":23,"s":"g","t":95,"v":0},{"c":23,"s":"g","t":100,"v":-0.05},
{"c":24,"s":"b","t":0,"v":0},{"c":24,"s":"b","t":5,"v":-0.05},{"c":24,"s":"b","t":9,"v":0},{"c":24,"s":"b","t":12,"v":0.19},{"c":24,"s":"b","t":15,"v":0.46},{"c":24,"s":"b","t":21,"v":0.28},{"c":24,"s":"b","t":26.7,"v":0.14},{"c":24,"s":"b","t":32.5,"v":0.02},{"c":24,"s":"b","t":38,"v":0.05},{"c":24,"s":"b","t":44,"v":0.2},{"c":24,"s":"b","t":52,"v":0.28},{"c":24,"s":"b","t":60,"v":0.3},{"c":24,"s":"b","t":66.5,"v":0.28},{"c":24,"s":"b","t":69.5,"v":0.42},{"c":24,"s":"b","t":73,"v":0.23},{"c":24,"s":"b","t":77,"v":0.11},{"c":24,"s":"b","t":83,"v":0.14},{"c":24,"s":"b","t":89,"v":0.19},{"c":24,"s":"b","t":93,"v":0.11},{"c":24,"s":"b","t":100,"v":-0.02},
{"c":24,"s":"g","t":0,"v":0.05},{"c":24,"s":"g","t":5,"v":0.08},{"c":24,"s":"g","t":9,"v":-0.02},{"c":24,"s":"g","t":12,"v":0.25},{"c":24,"s":"g","t":15,"v":0.55},{"c":24,"s":"g","t":18,"v":0.5},{"c":24,"s":"g","t":22,"v":0.4},{"c":24,"s":"g","t":26,"v":0.3},{"c":24,"s":"g","t":30,"v":0.15},{"c":24,"s":"g","t":34,"v":0.1},{"c":24,"s":"g","t":38,"v":0.2},{"c":24,"s":"g","t":42,"v":0.3},{"c":24,"s":"g","t":46,"v":0.28},{"c":24,"s":"g","t":50,"v":0.35},{"c":24,"s":"g","t":54,"v":0.5},{"c":24,"s":"g","t":58,"v":0.55},{"c":24,"s":"g","t":62,"v":0.45},{"c":24,"s":"g","t":66,"v":0.3},{"c":24,"s":"g","t":68,"v":0.32},{"c":24,"s":"g","t":70,"v":0.65},{"c":24,"s":"g","t":72,"v":0.85},{"c":24,"s":"g","t":75,"v":0.7},{"c":24,"s":"g","t":78,"v":0.3},{"c":24,"s":"g","t":82,"v":0.15},{"c":24,"s":"g","t":88,"v":0.15},{"c":24,"s":"g","t":94,"v":0.08},{"c":24,"s":"g","t":100,"v":-0.02}
]},
"spacing":3,
"vconcat":[
{"spacing":3,"bounds":"flush","hconcat":[
{"width":73,"height":67,"view":{"stroke":null},"data":{"name":"lb"},"transform":[{"filter":"datum.c==0"}],"mark":"text"},
{"width":168,"height":67,"encoding":{"x":{"field":"t","type":"quantitative","scale":{"domain":[0,100],"nice":false,"zero":false}},"y":{"field":"v","type":"quantitative","scale":{"domain":[-1,1],"nice":false,"zero":false}}},"layer":[
{"data":{"name":"ev"},"mark":{"type":"rule","color":"#1a1a1a","strokeWidth":1},"encoding":{"y2":{"field":"v2"}}},
{"data":{"name":"bl"},"mark":{"type":"rule","color":"#8a8a8a","strokeWidth":1,"strokeDash":[1,2]},"encoding":{"x2":{"field":"t2"}}},
{"data":{"name":"tr"},"transform":[{"filter":"datum.c==1&&datum.s=='g'"}],"mark":{"type":"line","color":"#a8a8a8","strokeWidth":2.5,"clip":true}},
{"data":{"name":"tr"},"transform":[{"filter":"datum.c==1&&datum.s=='b'"}],"mark":{"type":"line","color":"#141414","strokeWidth":2.2,"clip":true}},
{"data":{"name":"lb"},"transform":[{"filter":"datum.c==1&&datum.k=='c'"}],"mark":{"type":"text","font":"Liberation Serif","fontWeight":"bold","fontSize":13,"baseline":"bottom","color":"#111"},"encoding":{"text":{"field":"txt"}}}]},
{"width":168,"height":67,"encoding":{"x":{"field":"t","type":"quantitative","scale":{"domain":[0,100],"nice":false,"zero":false}},"y":{"field":"v","type":"quantitative","scale":{"domain":[-1,1],"nice":false,"zero":false}}},"layer":[
{"data":{"name":"ev"},"mark":{"type":"rule","color":"#1a1a1a","strokeWidth":1},"encoding":{"y2":{"field":"v2"}}},
{"data":{"name":"bl"},"mark":{"type":"rule","color":"#8a8a8a","strokeWidth":1,"strokeDash":[1,2]},"encoding":{"x2":{"field":"t2"}}},
{"data":{"name":"tr"},"transform":[{"filter":"datum.c==2&&datum.s=='g'"}],"mark":{"type":"line","color":"#a8a8a8","strokeWidth":2.5,"clip":true}},
{"data":{"name":"tr"},"transform":[{"filter":"datum.c==2&&datum.s=='b'"}],"mark":{"type":"line","color":"#141414","strokeWidth":2.2,"clip":true}},
{"data":{"name":"lb"},"transform":[{"filter":"datum.c==2&&datum.k=='c'"}],"mark":{"type":"text","font":"Liberation Serif","fontWeight":"bold","fontSize":13,"baseline":"bottom","color":"#111"},"encoding":{"text":{"field":"txt"}}},
{"data":{"name":"lb"},"transform":[{"filter":"datum.c==2&&datum.k=='p'"}],"mark":{"type":"text","font":"Liberation Serif","fontWeight":"bold","fontSize":17,"baseline":"alphabetic","color":"#111"},"encoding":{"text":{"field":"txt"}}}]},
{"width":168,"height":67,"encoding":{"x":{"field":"t","type":"quantitative","scale":{"domain":[0,100],"nice":false,"zero":false}},"y":{"field":"v","type":"quantitative","scale":{"domain":[-1,1],"nice":false,"zero":false}}},"layer":[
{"data":{"name":"ev"},"mark":{"type":"rule","color":"#1a1a1a","strokeWidth":1},"encoding":{"y2":{"field":"v2"}}},
{"data":{"name":"bl"},"mark":{"type":"rule","color":"#8a8a8a","strokeWidth":1,"strokeDash":[1,2]},"encoding":{"x2":{"field":"t2"}}},
{"data":{"name":"tr"},"transform":[{"filter":"datum.c==3&&datum.s=='g'"}],"mark":{"type":"line","color":"#a8a8a8","strokeWidth":2.5,"clip":true}},
{"data":{"name":"tr"},"transform":[{"filter":"datum.c==3&&datum.s=='b'"}],"mark":{"type":"line","color":"#141414","strokeWidth":2.2,"clip":true}},
{"data":{"name":"lb"},"transform":[{"filter":"datum.c==3&&datum.k=='c'"}],"mark":{"type":"text","font":"Liberation Serif","fontWeight":"bold","fontSize":13,"baseline":"bottom","color":"#111"},"encoding":{"text":{"field":"txt"}}}]}
]},
{"spacing":-0.9,"vconcat":[
{"spacing":3,"bounds":"flush","hconcat":[
{"width":168,"height":67,"encoding":{"x":{"field":"t","type":"quantitative","scale":{"domain":[0,100],"nice":false,"zero":false}},"y":{"field":"v","type":"quantitative","scale":{"domain":[-1,1],"nice":false,"zero":false}}},"layer":[
{"data":{"name":"ev"},"mark":{"type":"rule","color":"#1a1a1a","strokeWidth":1},"encoding":{"y2":{"field":"v2"}}},
{"data":{"name":"bl"},"mark":{"type":"rule","color":"#8a8a8a","strokeWidth":1,"strokeDash":[1,2]},"encoding":{"x2":{"field":"t2"}}},
{"data":{"name":"tr"},"transform":[{"filter":"datum.c==4&&datum.s=='g'"}],"mark":{"type":"line","color":"#a8a8a8","strokeWidth":2.5,"clip":true}},
{"data":{"name":"tr"},"transform":[{"filter":"datum.c==4&&datum.s=='b'"}],"mark":{"type":"line","color":"#141414","strokeWidth":2.2,"clip":true}},
{"data":{"name":"lb"},"transform":[{"filter":"datum.c==4&&datum.k=='c'"}],"mark":{"type":"text","font":"Liberation Serif","fontWeight":"bold","fontSize":13,"baseline":"bottom","color":"#111"},"encoding":{"text":{"field":"txt"}}}]},
{"width":168,"height":67,"encoding":{"x":{"field":"t","type":"quantitative","scale":{"domain":[0,100],"nice":false,"zero":false}},"y":{"field":"v","type":"quantitative","scale":{"domain":[-1,1],"nice":false,"zero":false}}},"layer":[
{"data":{"name":"ev"},"mark":{"type":"rule","color":"#1a1a1a","strokeWidth":1},"encoding":{"y2":{"field":"v2"}}},
{"data":{"name":"bl"},"mark":{"type":"rule","color":"#8a8a8a","strokeWidth":1,"strokeDash":[1,2]},"encoding":{"x2":{"field":"t2"}}},
{"data":{"name":"tr"},"transform":[{"filter":"datum.c==5&&datum.s=='g'"}],"mark":{"type":"line","color":"#a8a8a8","strokeWidth":2.5,"clip":true}},
{"data":{"name":"tr"},"transform":[{"filter":"datum.c==5&&datum.s=='b'"}],"mark":{"type":"line","color":"#141414","strokeWidth":2.2,"clip":true}},
{"data":{"name":"lb"},"transform":[{"filter":"datum.c==5&&datum.k=='c'"}],"mark":{"type":"text","font":"Liberation Serif","fontWeight":"bold","fontSize":13,"baseline":"bottom","color":"#111"},"encoding":{"text":{"field":"txt"}}}]},
{"width":168,"height":67,"encoding":{"x":{"field":"t","type":"quantitative","scale":{"domain":[0,100],"nice":false,"zero":false}},"y":{"field":"v","type":"quantitative","scale":{"domain":[-1,1],"nice":false,"zero":false}}},"layer":[
{"data":{"name":"ev"},"mark":{"type":"rule","color":"#1a1a1a","strokeWidth":1},"encoding":{"y2":{"field":"v2"}}},
{"data":{"name":"bl"},"mark":{"type":"rule","color":"#8a8a8a","strokeWidth":1,"strokeDash":[1,2]},"encoding":{"x2":{"field":"t2"}}},
{"data":{"name":"tr"},"transform":[{"filter":"datum.c==6&&datum.s=='g'"}],"mark":{"type":"line","color":"#a8a8a8","strokeWidth":2.5,"clip":true}},
{"data":{"name":"tr"},"transform":[{"filter":"datum.c==6&&datum.s=='b'"}],"mark":{"type":"line","color":"#141414","strokeWidth":2.2,"clip":true}},
{"data":{"name":"lb"},"transform":[{"filter":"datum.c==6&&datum.k=='c'"}],"mark":{"type":"text","font":"Liberation Serif","fontWeight":"bold","fontSize":13,"baseline":"bottom","color":"#111"},"encoding":{"text":{"field":"txt"}}}]},
{"width":168,"height":67,"encoding":{"x":{"field":"t","type":"quantitative","scale":{"domain":[0,100],"nice":false,"zero":false}},"y":{"field":"v","type":"quantitative","scale":{"domain":[-1,1],"nice":false,"zero":false}}},"layer":[
{"data":{"name":"ev"},"mark":{"type":"rule","color":"#1a1a1a","strokeWidth":1},"encoding":{"y2":{"field":"v2"}}},
{"data":{"name":"bl"},"mark":{"type":"rule","color":"#8a8a8a","strokeWidth":1,"strokeDash":[1,2]},"encoding":{"x2":{"field":"t2"}}},
{"data":{"name":"tr"},"transform":[{"filter":"datum.c==7&&datum.s=='g'"}],"mark":{"type":"line","color":"#a8a8a8","strokeWidth":2.5,"clip":true}},
{"data":{"name":"tr"},"transform":[{"filter":"datum.c==7&&datum.s=='b'"}],"mark":{"type":"line","color":"#141414","strokeWidth":2.2,"clip":true}},
{"data":{"name":"lb"},"transform":[{"filter":"datum.c==7&&datum.k=='c'"}],"mark":{"type":"text","font":"Liberation Serif","fontWeight":"bold","fontSize":13,"baseline":"bottom","color":"#111"},"encoding":{"text":{"field":"txt"}}}]}
]},
{"spacing":3,"bounds":"flush","hconcat":[
{"width":69,"height":67,"view":{"stroke":null},"data":{"name":"lb"},"transform":[{"filter":"datum.c==0"}],"mark":"text"},
{"width":168,"height":67,"encoding":{"x":{"field":"t","type":"quantitative","scale":{"domain":[0,100],"nice":false,"zero":false}},"y":{"field":"v","type":"quantitative","scale":{"domain":[-1,1],"nice":false,"zero":false}}},"layer":[
{"data":{"name":"ev"},"mark":{"type":"rule","color":"#1a1a1a","strokeWidth":1},"encoding":{"y2":{"field":"v2"}}},
{"data":{"name":"bl"},"mark":{"type":"rule","color":"#8a8a8a","strokeWidth":1,"strokeDash":[1,2]},"encoding":{"x2":{"field":"t2"}}},
{"data":{"name":"tr"},"transform":[{"filter":"datum.c==8&&datum.s=='g'"}],"mark":{"type":"line","color":"#a8a8a8","strokeWidth":2.5,"clip":true}},
{"data":{"name":"tr"},"transform":[{"filter":"datum.c==8&&datum.s=='b'"}],"mark":{"type":"line","color":"#141414","strokeWidth":2.2,"clip":true}},
{"data":{"name":"lb"},"transform":[{"filter":"datum.c==8&&datum.k=='c'"}],"mark":{"type":"text","font":"Liberation Serif","fontWeight":"bold","fontSize":13,"baseline":"bottom","color":"#111"},"encoding":{"text":{"field":"txt"}}}]},
{"width":168,"height":67,"encoding":{"x":{"field":"t","type":"quantitative","scale":{"domain":[0,100],"nice":false,"zero":false}},"y":{"field":"v","type":"quantitative","scale":{"domain":[-1,1],"nice":false,"zero":false}}},"layer":[
{"data":{"name":"ev"},"mark":{"type":"rule","color":"#1a1a1a","strokeWidth":1},"encoding":{"y2":{"field":"v2"}}},
{"data":{"name":"bl"},"mark":{"type":"rule","color":"#8a8a8a","strokeWidth":1,"strokeDash":[1,2]},"encoding":{"x2":{"field":"t2"}}},
{"data":{"name":"tr"},"transform":[{"filter":"datum.c==9&&datum.s=='g'"}],"mark":{"type":"line","color":"#a8a8a8","strokeWidth":2.5,"clip":true}},
{"data":{"name":"tr"},"transform":[{"filter":"datum.c==9&&datum.s=='b'"}],"mark":{"type":"line","color":"#141414","strokeWidth":2.2,"clip":true}},
{"data":{"name":"lb"},"transform":[{"filter":"datum.c==9&&datum.k=='c'"}],"mark":{"type":"text","font":"Liberation Serif","fontWeight":"bold","fontSize":13,"baseline":"bottom","color":"#111"},"encoding":{"text":{"field":"txt"}}}]},
{"width":168,"height":67,"encoding":{"x":{"field":"t","type":"quantitative","scale":{"domain":[0,100],"nice":false,"zero":false}},"y":{"field":"v","type":"quantitative","scale":{"domain":[-1,1],"nice":false,"zero":false}}},"layer":[
{"data":{"name":"ev"},"mark":{"type":"rule","color":"#1a1a1a","strokeWidth":1},"encoding":{"y2":{"field":"v2"}}},
{"data":{"name":"bl"},"mark":{"type":"rule","color":"#8a8a8a","strokeWidth":1,"strokeDash":[1,2]},"encoding":{"x2":{"field":"t2"}}},
{"data":{"name":"tr"},"transform":[{"filter":"datum.c==10&&datum.s=='g'"}],"mark":{"type":"line","color":"#a8a8a8","strokeWidth":2.5,"clip":true}},
{"data":{"name":"tr"},"transform":[{"filter":"datum.c==10&&datum.s=='b'"}],"mark":{"type":"line","color":"#141414","strokeWidth":2.2,"clip":true}},
{"data":{"name":"lb"},"transform":[{"filter":"datum.c==10&&datum.k=='c'"}],"mark":{"type":"text","font":"Liberation Serif","fontWeight":"bold","fontSize":13,"baseline":"bottom","color":"#111"},"encoding":{"text":{"field":"txt"}}}]}
]},
{"spacing":3,"bounds":"flush","hconcat":[
{"width":168,"height":67,"encoding":{"x":{"field":"t","type":"quantitative","scale":{"domain":[0,100],"nice":false,"zero":false}},"y":{"field":"v","type":"quantitative","scale":{"domain":[-1,1],"nice":false,"zero":false}}},"layer":[
{"data":{"name":"ev"},"mark":{"type":"rule","color":"#1a1a1a","strokeWidth":1},"encoding":{"y2":{"field":"v2"}}},
{"data":{"name":"bl"},"mark":{"type":"rule","color":"#8a8a8a","strokeWidth":1,"strokeDash":[1,2]},"encoding":{"x2":{"field":"t2"}}},
{"data":{"name":"tr"},"transform":[{"filter":"datum.c==11&&datum.s=='g'"}],"mark":{"type":"line","color":"#a8a8a8","strokeWidth":2.5,"clip":true}},
{"data":{"name":"tr"},"transform":[{"filter":"datum.c==11&&datum.s=='b'"}],"mark":{"type":"line","color":"#141414","strokeWidth":2.2,"clip":true}},
{"data":{"name":"lb"},"transform":[{"filter":"datum.c==11&&datum.k=='c'"}],"mark":{"type":"text","font":"Liberation Serif","fontWeight":"bold","fontSize":13,"baseline":"bottom","color":"#111"},"encoding":{"text":{"field":"txt"}}}]},
{"width":168,"height":67,"encoding":{"x":{"field":"t","type":"quantitative","scale":{"domain":[0,100],"nice":false,"zero":false}},"y":{"field":"v","type":"quantitative","scale":{"domain":[-1,1],"nice":false,"zero":false}}},"layer":[
{"data":{"name":"ev"},"mark":{"type":"rule","color":"#1a1a1a","strokeWidth":1},"encoding":{"y2":{"field":"v2"}}},
{"data":{"name":"bl"},"mark":{"type":"rule","color":"#8a8a8a","strokeWidth":1,"strokeDash":[1,2]},"encoding":{"x2":{"field":"t2"}}},
{"data":{"name":"tr"},"transform":[{"filter":"datum.c==12&&datum.s=='g'"}],"mark":{"type":"line","color":"#a8a8a8","strokeWidth":2.5,"clip":true}},
{"data":{"name":"tr"},"transform":[{"filter":"datum.c==12&&datum.s=='b'"}],"mark":{"type":"line","color":"#141414","strokeWidth":2.2,"clip":true}},
{"data":{"name":"lb"},"transform":[{"filter":"datum.c==12&&datum.k=='c'"}],"mark":{"type":"text","font":"Liberation Serif","fontWeight":"bold","fontSize":13,"baseline":"bottom","color":"#111"},"encoding":{"text":{"field":"txt"}}}]},
{"width":168,"height":67,"encoding":{"x":{"field":"t","type":"quantitative","scale":{"domain":[0,100],"nice":false,"zero":false}},"y":{"field":"v","type":"quantitative","scale":{"domain":[-1,1],"nice":false,"zero":false}}},"layer":[
{"data":{"name":"ev"},"mark":{"type":"rule","color":"#1a1a1a","strokeWidth":1},"encoding":{"y2":{"field":"v2"}}},
{"data":{"name":"bl"},"mark":{"type":"rule","color":"#8a8a8a","strokeWidth":1,"strokeDash":[1,2]},"encoding":{"x2":{"field":"t2"}}},
{"data":{"name":"tr"},"transform":[{"filter":"datum.c==13&&datum.s=='g'"}],"mark":{"type":"line","color":"#a8a8a8","strokeWidth":2.5,"clip":true}},
{"data":{"name":"tr"},"transform":[{"filter":"datum.c==13&&datum.s=='b'"}],"mark":{"type":"line","color":"#141414","strokeWidth":2.2,"clip":true}},
{"data":{"name":"lb"},"transform":[{"filter":"datum.c==13&&datum.k=='c'"}],"mark":{"type":"text","font":"Liberation Serif","fontWeight":"bold","fontSize":13,"baseline":"bottom","color":"#111"},"encoding":{"text":{"field":"txt"}}}]},
{"width":168,"height":67,"encoding":{"x":{"field":"t","type":"quantitative","scale":{"domain":[0,100],"nice":false,"zero":false}},"y":{"field":"v","type":"quantitative","scale":{"domain":[-1,1],"nice":false,"zero":false}}},"layer":[
{"data":{"name":"ev"},"mark":{"type":"rule","color":"#1a1a1a","strokeWidth":1},"encoding":{"y2":{"field":"v2"}}},
{"data":{"name":"bl"},"mark":{"type":"rule","color":"#8a8a8a","strokeWidth":1,"strokeDash":[1,2]},"encoding":{"x2":{"field":"t2"}}},
{"data":{"name":"tr"},"transform":[{"filter":"datum.c==14&&datum.s=='g'"}],"mark":{"type":"line","color":"#a8a8a8","strokeWidth":2.5,"clip":true}},
{"data":{"name":"tr"},"transform":[{"filter":"datum.c==14&&datum.s=='b'"}],"mark":{"type":"line","color":"#141414","strokeWidth":2.2,"clip":true}},
{"data":{"name":"lb"},"transform":[{"filter":"datum.c==14&&datum.k=='c'"}],"mark":{"type":"text","font":"Liberation Serif","fontWeight":"bold","fontSize":13,"baseline":"bottom","color":"#111"},"encoding":{"text":{"field":"txt"}}}]}
]}
]},
{"spacing":3,"bounds":"flush","hconcat":[
{"width":73,"height":67,"view":{"stroke":null},"data":{"name":"lb"},"transform":[{"filter":"datum.c==25"}],"mark":{"type":"text","font":"Liberation Serif","fontSize":38,"baseline":"middle","color":"#111"},"encoding":{"x":{"field":"t","type":"quantitative","scale":{"domain":[0,100]}},"y":{"field":"v","type":"quantitative","scale":{"domain":[-1,1]}},"text":{"field":"txt"}}},
{"width":168,"height":67,"encoding":{"x":{"field":"t","type":"quantitative","scale":{"domain":[0,100],"nice":false,"zero":false}},"y":{"field":"v","type":"quantitative","scale":{"domain":[-1,1],"nice":false,"zero":false}}},"layer":[
{"data":{"name":"ev"},"mark":{"type":"rule","color":"#1a1a1a","strokeWidth":1},"encoding":{"y2":{"field":"v2"}}},
{"data":{"name":"bl"},"mark":{"type":"rule","color":"#8a8a8a","strokeWidth":1,"strokeDash":[1,2]},"encoding":{"x2":{"field":"t2"}}},
{"data":{"name":"tr"},"transform":[{"filter":"datum.c==15&&datum.s=='g'"}],"mark":{"type":"line","color":"#a8a8a8","strokeWidth":2.5,"clip":true}},
{"data":{"name":"tr"},"transform":[{"filter":"datum.c==15&&datum.s=='b'"}],"mark":{"type":"line","color":"#141414","strokeWidth":2.2,"clip":true}},
{"data":{"name":"lb"},"transform":[{"filter":"datum.c==15&&datum.k=='c'"}],"mark":{"type":"text","font":"Liberation Serif","fontWeight":"bold","fontSize":13,"baseline":"bottom","color":"#111"},"encoding":{"text":{"field":"txt"}}}]},
{"width":168,"height":67,"encoding":{"x":{"field":"t","type":"quantitative","scale":{"domain":[0,100],"nice":false,"zero":false}},"y":{"field":"v","type":"quantitative","scale":{"domain":[-1,1],"nice":false,"zero":false}}},"layer":[
{"data":{"name":"ev"},"mark":{"type":"rule","color":"#1a1a1a","strokeWidth":1},"encoding":{"y2":{"field":"v2"}}},
{"data":{"name":"bl"},"mark":{"type":"rule","color":"#8a8a8a","strokeWidth":1,"strokeDash":[1,2]},"encoding":{"x2":{"field":"t2"}}},
{"data":{"name":"tr"},"transform":[{"filter":"datum.c==16&&datum.s=='g'"}],"mark":{"type":"line","color":"#a8a8a8","strokeWidth":2.5,"clip":true}},
{"data":{"name":"tr"},"transform":[{"filter":"datum.c==16&&datum.s=='b'"}],"mark":{"type":"line","color":"#141414","strokeWidth":2.2,"clip":true}},
{"data":{"name":"lb"},"transform":[{"filter":"datum.c==16&&datum.k=='c'"}],"mark":{"type":"text","font":"Liberation Serif","fontWeight":"bold","fontSize":13,"baseline":"bottom","color":"#111"},"encoding":{"text":{"field":"txt"}}}]},
{"width":168,"height":67,"encoding":{"x":{"field":"t","type":"quantitative","scale":{"domain":[0,100],"nice":false,"zero":false}},"y":{"field":"v","type":"quantitative","scale":{"domain":[-1,1],"nice":false,"zero":false}}},"layer":[
{"data":{"name":"ev"},"mark":{"type":"rule","color":"#1a1a1a","strokeWidth":1},"encoding":{"y2":{"field":"v2"}}},
{"data":{"name":"bl"},"mark":{"type":"rule","color":"#8a8a8a","strokeWidth":1,"strokeDash":[1,2]},"encoding":{"x2":{"field":"t2"}}},
{"data":{"name":"tr"},"transform":[{"filter":"datum.c==17&&datum.s=='g'"}],"mark":{"type":"line","color":"#a8a8a8","strokeWidth":2.5,"clip":true}},
{"data":{"name":"tr"},"transform":[{"filter":"datum.c==17&&datum.s=='b'"}],"mark":{"type":"line","color":"#141414","strokeWidth":2.2,"clip":true}},
{"data":{"name":"lb"},"transform":[{"filter":"datum.c==17&&datum.k=='c'"}],"mark":{"type":"text","font":"Liberation Serif","fontWeight":"bold","fontSize":13,"baseline":"bottom","color":"#111"},"encoding":{"text":{"field":"txt"}}}]},
{"width":73,"height":67,"view":{"stroke":null},"data":{"name":"lb"},"transform":[{"filter":"datum.c==26"}],"mark":{"type":"text","font":"Liberation Serif","fontSize":38,"baseline":"middle","color":"#111"},"encoding":{"x":{"field":"t","type":"quantitative","scale":{"domain":[0,100]}},"y":{"field":"v","type":"quantitative","scale":{"domain":[-1,1]}},"text":{"field":"txt"}}}
]},
{"spacing":3,"bounds":"flush","hconcat":[
{"width":168,"height":67,"encoding":{"x":{"field":"t","type":"quantitative","scale":{"domain":[0,100],"nice":false,"zero":false}},"y":{"field":"v","type":"quantitative","scale":{"domain":[-1,1],"nice":false,"zero":false}}},"layer":[
{"data":{"name":"ev"},"mark":{"type":"rule","color":"#1a1a1a","strokeWidth":1},"encoding":{"y2":{"field":"v2"}}},
{"data":{"name":"bl"},"mark":{"type":"rule","color":"#8a8a8a","strokeWidth":1,"strokeDash":[1,2]},"encoding":{"x2":{"field":"t2"}}},
{"data":{"name":"tr"},"transform":[{"filter":"datum.c==18&&datum.s=='g'"}],"mark":{"type":"line","color":"#a8a8a8","strokeWidth":2.5,"clip":true}},
{"data":{"name":"tr"},"transform":[{"filter":"datum.c==18&&datum.s=='b'"}],"mark":{"type":"line","color":"#141414","strokeWidth":2.2,"clip":true}},
{"data":{"name":"lb"},"transform":[{"filter":"datum.c==18&&datum.k=='c'"}],"mark":{"type":"text","font":"Liberation Serif","fontWeight":"bold","fontSize":13,"baseline":"bottom","color":"#111"},"encoding":{"text":{"field":"txt"}}}]},
{"width":168,"height":67,"encoding":{"x":{"field":"t","type":"quantitative","scale":{"domain":[0,100],"nice":false,"zero":false}},"y":{"field":"v","type":"quantitative","scale":{"domain":[-1,1],"nice":false,"zero":false}}},"layer":[
{"data":{"name":"ev"},"mark":{"type":"rule","color":"#1a1a1a","strokeWidth":1},"encoding":{"y2":{"field":"v2"}}},
{"data":{"name":"bl"},"mark":{"type":"rule","color":"#8a8a8a","strokeWidth":1,"strokeDash":[1,2]},"encoding":{"x2":{"field":"t2"}}},
{"data":{"name":"tr"},"transform":[{"filter":"datum.c==19&&datum.s=='g'"}],"mark":{"type":"line","color":"#a8a8a8","strokeWidth":2.5,"clip":true}},
{"data":{"name":"tr"},"transform":[{"filter":"datum.c==19&&datum.s=='b'"}],"mark":{"type":"line","color":"#141414","strokeWidth":2.2,"clip":true}},
{"data":{"name":"lb"},"transform":[{"filter":"datum.c==19&&datum.k=='c'"}],"mark":{"type":"text","font":"Liberation Serif","fontWeight":"bold","fontSize":13,"baseline":"bottom","color":"#111"},"encoding":{"text":{"field":"txt"}}}]},
{"width":168,"height":67,"encoding":{"x":{"field":"t","type":"quantitative","scale":{"domain":[0,100],"nice":false,"zero":false}},"y":{"field":"v","type":"quantitative","scale":{"domain":[-1,1],"nice":false,"zero":false}}},"layer":[
{"data":{"name":"ev"},"mark":{"type":"rule","color":"#1a1a1a","strokeWidth":1},"encoding":{"y2":{"field":"v2"}}},
{"data":{"name":"bl"},"mark":{"type":"rule","color":"#8a8a8a","strokeWidth":1,"strokeDash":[1,2]},"encoding":{"x2":{"field":"t2"}}},
{"data":{"name":"tr"},"transform":[{"filter":"datum.c==20&&datum.s=='g'"}],"mark":{"type":"line","color":"#a8a8a8","strokeWidth":2.5,"clip":true}},
{"data":{"name":"tr"},"transform":[{"filter":"datum.c==20&&datum.s=='b'"}],"mark":{"type":"line","color":"#141414","strokeWidth":2.2,"clip":true}},
{"data":{"name":"lb"},"transform":[{"filter":"datum.c==20&&datum.k=='c'"}],"mark":{"type":"text","font":"Liberation Serif","fontWeight":"bold","fontSize":13,"baseline":"bottom","color":"#111"},"encoding":{"text":{"field":"txt"}}}]},
{"width":168,"height":67,"encoding":{"x":{"field":"t","type":"quantitative","scale":{"domain":[0,100],"nice":false,"zero":false}},"y":{"field":"v","type":"quantitative","scale":{"domain":[-1,1],"nice":false,"zero":false}}},"layer":[
{"data":{"name":"ev"},"mark":{"type":"rule","color":"#1a1a1a","strokeWidth":1},"encoding":{"y2":{"field":"v2"}}},
{"data":{"name":"bl"},"mark":{"type":"rule","color":"#8a8a8a","strokeWidth":1,"strokeDash":[1,2]},"encoding":{"x2":{"field":"t2"}}},
{"data":{"name":"tr"},"transform":[{"filter":"datum.c==21&&datum.s=='g'"}],"mark":{"type":"line","color":"#a8a8a8","strokeWidth":2.5,"clip":true}},
{"data":{"name":"tr"},"transform":[{"filter":"datum.c==21&&datum.s=='b'"}],"mark":{"type":"line","color":"#141414","strokeWidth":2.2,"clip":true}},
{"data":{"name":"lb"},"transform":[{"filter":"datum.c==21&&datum.k=='c'"}],"mark":{"type":"text","font":"Liberation Serif","fontWeight":"bold","fontSize":13,"baseline":"bottom","color":"#111"},"encoding":{"text":{"field":"txt"}}}]}
]},
{"spacing":3,"bounds":"flush","hconcat":[
{"width":64,"height":67,"view":{"stroke":null},"data":{"name":"lb"},"transform":[{"filter":"datum.c==0"}],"mark":"text"},
{"width":168,"height":67,"encoding":{"x":{"field":"t","type":"quantitative","scale":{"domain":[0,100],"nice":false,"zero":false}},"y":{"field":"v","type":"quantitative","scale":{"domain":[-1,1],"nice":false,"zero":false}}},"layer":[
{"data":{"name":"ev"},"mark":{"type":"rule","color":"#1a1a1a","strokeWidth":1},"encoding":{"y2":{"field":"v2"}}},
{"data":{"name":"bl"},"mark":{"type":"rule","color":"#8a8a8a","strokeWidth":1,"strokeDash":[1,2]},"encoding":{"x2":{"field":"t2"}}},
{"data":{"name":"tr"},"transform":[{"filter":"datum.c==22&&datum.s=='g'"}],"mark":{"type":"line","color":"#a8a8a8","strokeWidth":2.5,"clip":true}},
{"data":{"name":"tr"},"transform":[{"filter":"datum.c==22&&datum.s=='b'"}],"mark":{"type":"line","color":"#141414","strokeWidth":2.2,"clip":true}},
{"data":{"name":"lb"},"transform":[{"filter":"datum.c==22&&datum.k=='c'"}],"mark":{"type":"text","font":"Liberation Serif","fontWeight":"bold","fontSize":13,"baseline":"bottom","color":"#111"},"encoding":{"text":{"field":"txt"}}}]},
{"width":168,"height":67,"encoding":{"x":{"field":"t","type":"quantitative","scale":{"domain":[0,100],"nice":false,"zero":false}},"y":{"field":"v","type":"quantitative","scale":{"domain":[-1,1],"nice":false,"zero":false}}},"layer":[
{"data":{"name":"ev"},"mark":{"type":"rule","color":"#1a1a1a","strokeWidth":1},"encoding":{"y2":{"field":"v2"}}},
{"data":{"name":"bl"},"mark":{"type":"rule","color":"#8a8a8a","strokeWidth":1,"strokeDash":[1,2]},"encoding":{"x2":{"field":"t2"}}},
{"data":{"name":"tr"},"transform":[{"filter":"datum.c==23&&datum.s=='g'"}],"mark":{"type":"line","color":"#a8a8a8","strokeWidth":2.5,"clip":true}},
{"data":{"name":"tr"},"transform":[{"filter":"datum.c==23&&datum.s=='b'"}],"mark":{"type":"line","color":"#141414","strokeWidth":2.2,"clip":true}},
{"data":{"name":"lb"},"transform":[{"filter":"datum.c==23&&datum.k=='c'"}],"mark":{"type":"text","font":"Liberation Serif","fontWeight":"bold","fontSize":13,"baseline":"alphabetic","color":"#111"},"encoding":{"text":{"field":"txt"}}},
{"data":{"name":"lb"},"transform":[{"filter":"datum.c==23&&datum.k=='p'"}],"mark":{"type":"text","font":"Liberation Serif","fontWeight":"bold","fontSize":17,"baseline":"bottom","color":"#111"},"encoding":{"text":{"field":"txt"}}}]},
{"width":168,"height":67,"encoding":{"x":{"field":"t","type":"quantitative","scale":{"domain":[0,100],"nice":false,"zero":false}},"y":{"field":"v","type":"quantitative","scale":{"domain":[-1,1],"nice":false,"zero":false}}},"layer":[
{"data":{"name":"ev"},"mark":{"type":"rule","color":"#1a1a1a","strokeWidth":1},"encoding":{"y2":{"field":"v2"}}},
{"data":{"name":"bl"},"mark":{"type":"rule","color":"#8a8a8a","strokeWidth":1,"strokeDash":[1,2]},"encoding":{"x2":{"field":"t2"}}},
{"data":{"name":"tr"},"transform":[{"filter":"datum.c==24&&datum.s=='g'"}],"mark":{"type":"line","color":"#a8a8a8","strokeWidth":2.5,"clip":true}},
{"data":{"name":"tr"},"transform":[{"filter":"datum.c==24&&datum.s=='b'"}],"mark":{"type":"line","color":"#141414","strokeWidth":2.2,"clip":true}},
{"data":{"name":"lb"},"transform":[{"filter":"datum.c==24&&datum.k=='c'"}],"mark":{"type":"text","font":"Liberation Serif","fontWeight":"bold","fontSize":13,"baseline":"bottom","color":"#111"},"encoding":{"text":{"field":"txt"}}}]}
]}
]
}
